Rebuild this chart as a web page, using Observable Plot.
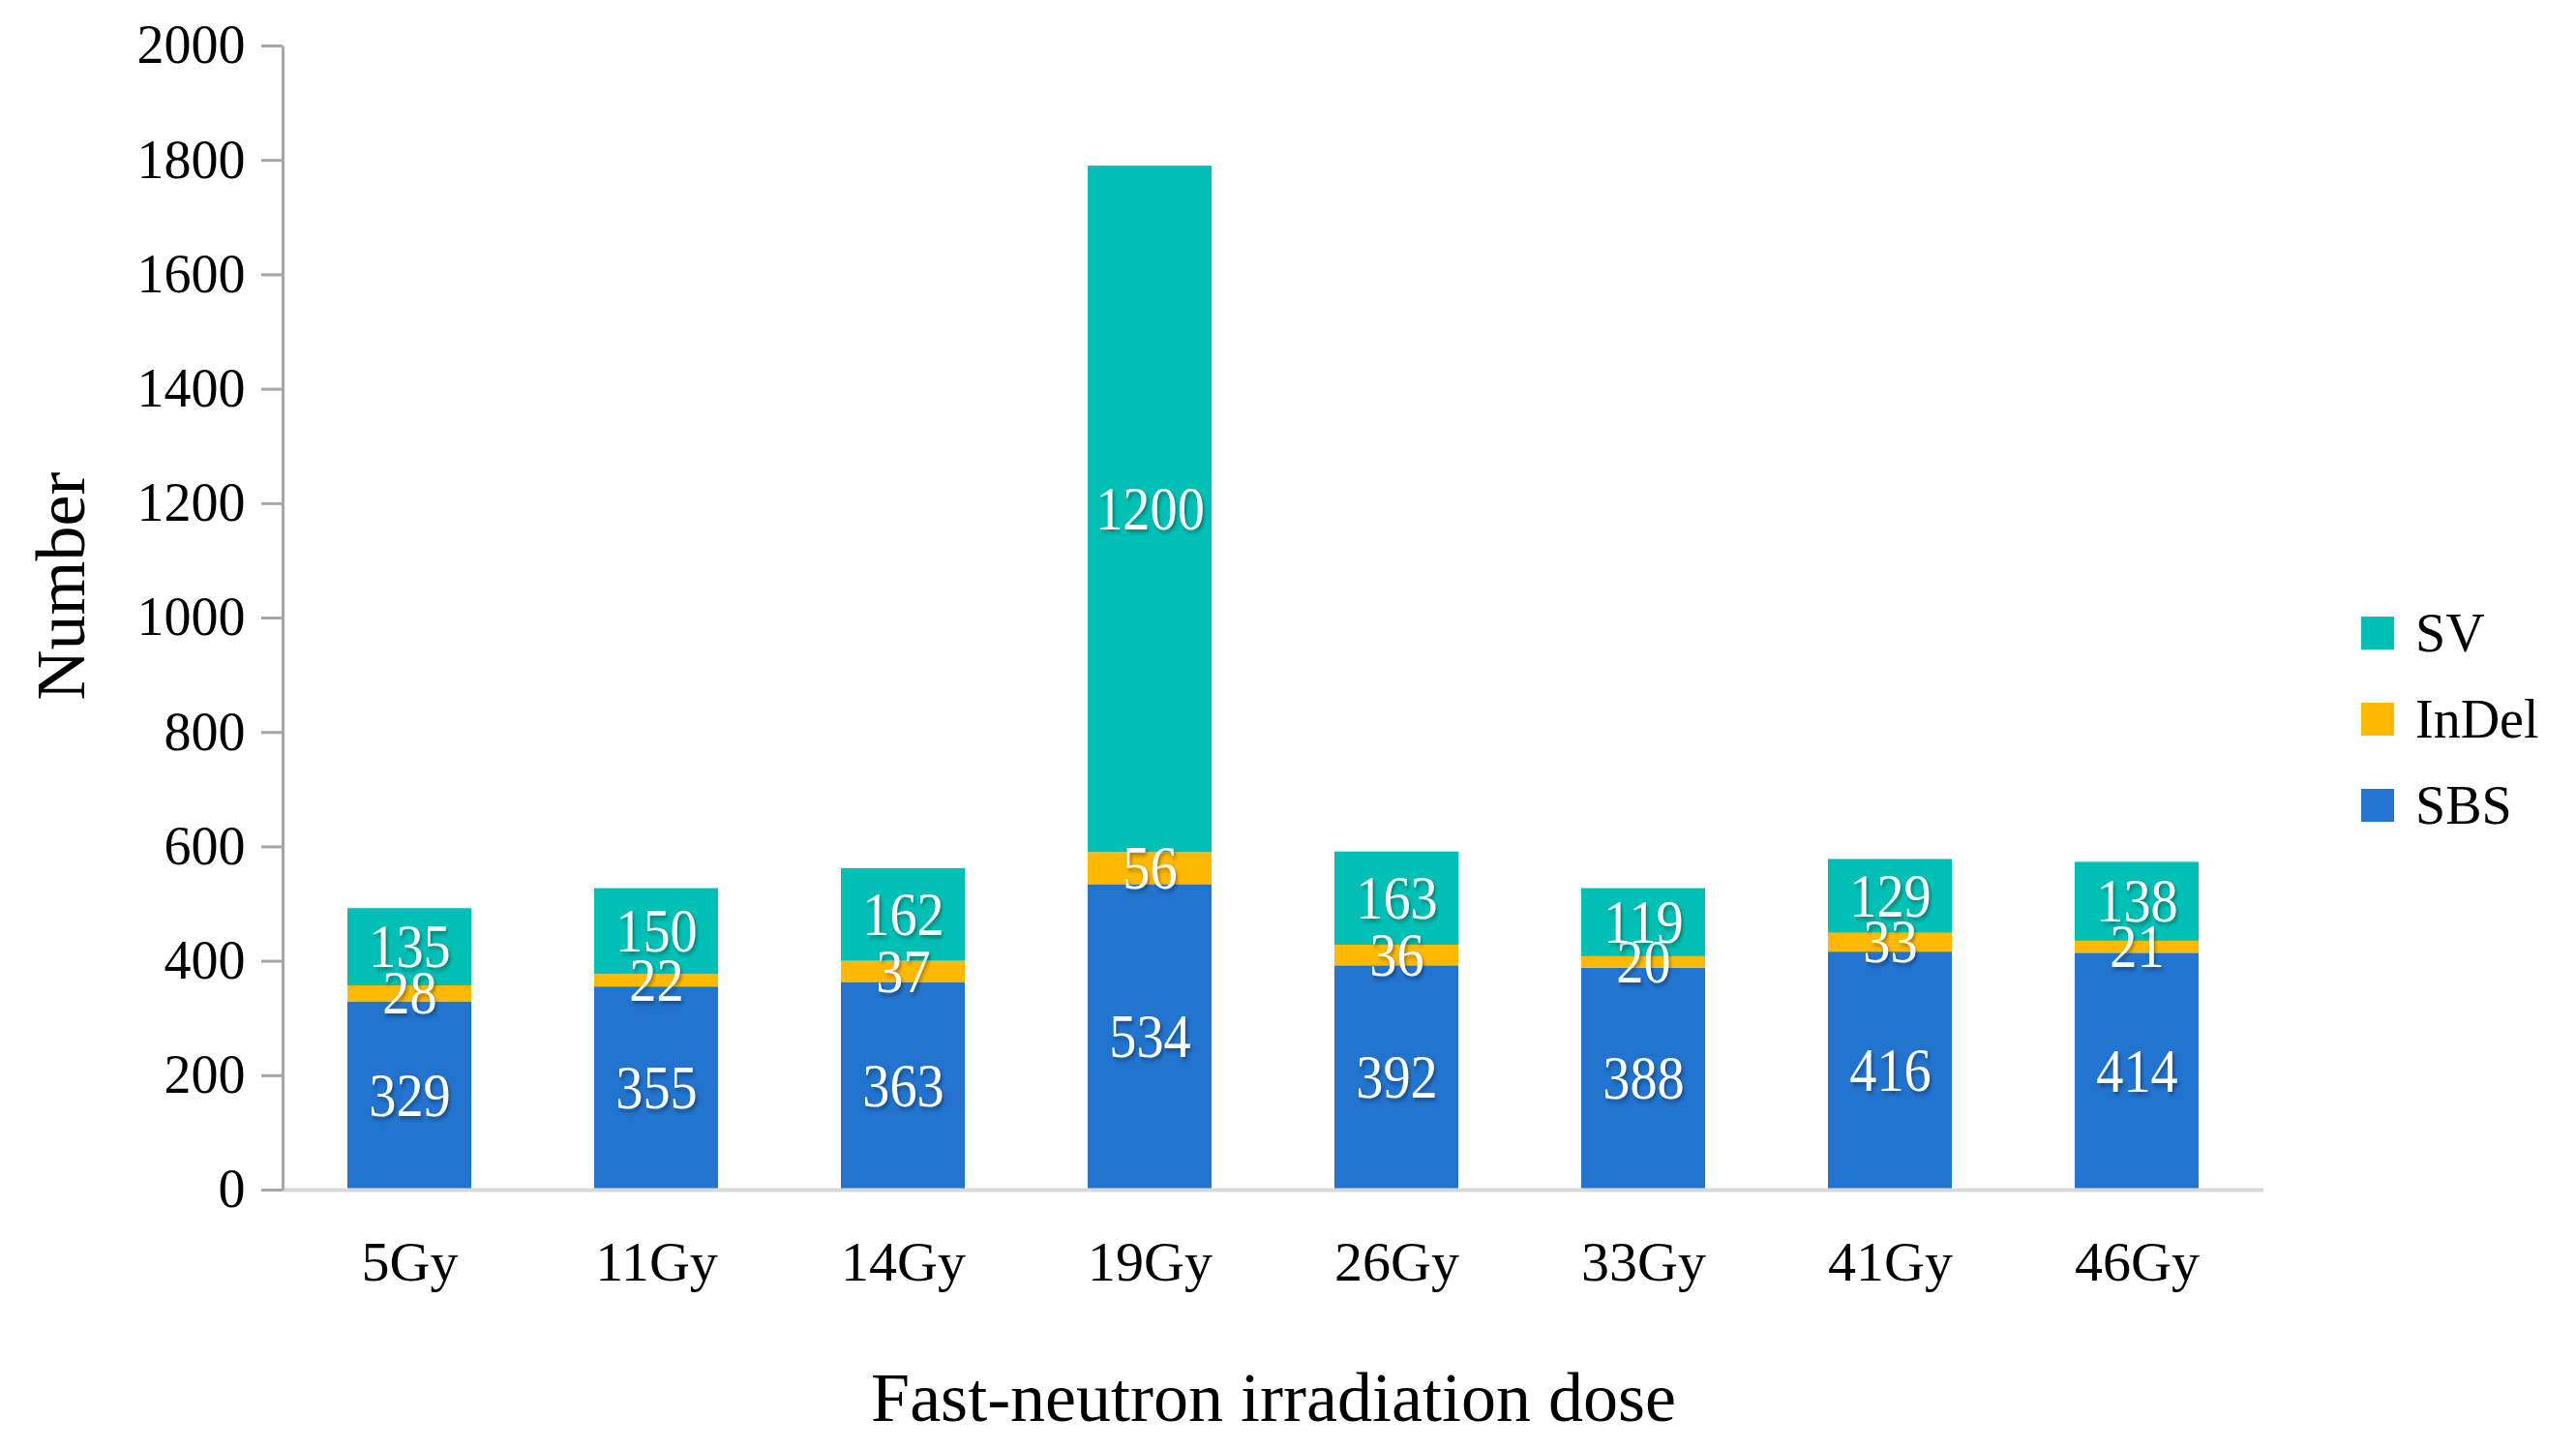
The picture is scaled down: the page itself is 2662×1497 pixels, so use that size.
<!DOCTYPE html>
<html>
<head>
<meta charset="utf-8">
<script src="https://cdn.jsdelivr.net/npm/d3@7"></script>
<script src="https://cdn.jsdelivr.net/npm/@observablehq/plot@0.6"></script>
<style>
  html, body { margin: 0; padding: 0; background: #fff; }
  #wrap { position: relative; width: 2662px; height: 1497px; font-family: "Liberation Serif", "Times New Roman", serif; }
  #legend { position: absolute; left: 2440px; top: 609px; }
  .item { display: flex; align-items: center; height: 89px; font-size: 56px; color: #000; }
  .sw { width: 34px; height: 34px; margin-right: 22px; }
  g.datalabels text { filter: drop-shadow(2px 3px 2px rgba(0,0,0,0.35)); }
</style>
</head>
<body>
<div id="wrap"></div>
<script>
const doses = ["5Gy", "11Gy", "14Gy", "19Gy", "26Gy", "33Gy", "41Gy", "46Gy"];
const SBS   = [329, 355, 363, 534, 392, 388, 416, 414];
const InDel = [28, 22, 37, 56, 36, 20, 33, 21];
const SV    = [135, 150, 162, 1200, 163, 119, 129, 138];
const seriesNames = ["SBS", "InDel", "SV"];
const seriesColors = ["#2274cf", "#ffb900", "#00c0b5"];
const yTicks = [0, 200, 400, 600, 800, 1000, 1200, 1400, 1600, 1800, 2000];

const seriesValues = {SBS, InDel, SV};
const data = [];
seriesNames.forEach(s => doses.forEach((d, i) => data.push({dose: d, type: s, value: seriesValues[s][i]})));

const W = 2662, H = 1497, mL = 292, mR = 323, mT = 47, mB = 268;
const fw = W - mL - mR, fh = H - mT - mB;

const chart = Plot.plot({
  width: W, height: H,
  marginLeft: mL, marginRight: mR, marginTop: mT, marginBottom: mB,
  style: {fontFamily: "'Liberation Serif', 'Times New Roman', serif", background: "white", color: "black"},
  x: {domain: doses, paddingInner: 0.5, paddingOuter: 0.25, label: null},
  y: {domain: [0, 2000], label: null},
  color: {domain: seriesNames, range: seriesColors},
  marks: [
    Plot.barY(data, Plot.stackY({x: "dose", y: "value", fill: "type", order: seriesNames})),
    Plot.text(data, Plot.stackY({x: "dose", y: "value", z: "type", order: seriesNames, text: d => String(d.value), fill: "white", fontSize: 64})),
    Plot.ruleY([0], {stroke: "#d9d9d9", strokeWidth: 4}),
    Plot.frame({stroke: "#a6a6a6", strokeWidth: 3, strokeDasharray: `0 ${2 * fw + fh} ${fh}`}),
    Plot.axisY({ticks: yTicks, tickSize: 22, tickPadding: 17, fontSize: 56, stroke: "#a6a6a6", strokeWidth: 3, fill: "black", label: null, tickFormat: d => String(d)}),
    Plot.axisX({tickSize: 0, tickPadding: 52, fontSize: 58, fill: "black", label: null}),
    Plot.text(["Fast-neutron irradiation dose"], {frameAnchor: "bottom", textAnchor: "middle", dy: 238, fontSize: 72, fill: "black"}),
    Plot.text(["Number"], {frameAnchor: "left", textAnchor: "middle", rotate: -90, dx: -229, dy: -33, fontSize: 72, fill: "black"})
  ]
});

// mark data labels (first text mark)
const textGroups = chart.querySelectorAll('g[aria-label="text"]');
if (textGroups.length) {
  const g = textGroups[0];
  g.classList.add("datalabels");
  g.querySelectorAll("text").forEach(t => {
    const tr = t.getAttribute("transform");
    if (tr) t.setAttribute("transform", tr + " scale(0.88,1)");
  });
}

const wrap = document.getElementById("wrap");
wrap.appendChild(chart);

const legend = document.createElement("div");
legend.id = "legend";
[...seriesNames].reverse().forEach(s => {
  const it = document.createElement("div");
  it.className = "item";
  const sw = document.createElement("div");
  sw.className = "sw";
  sw.style.background = seriesColors[seriesNames.indexOf(s)];
  const lab = document.createElement("span");
  lab.textContent = s;
  it.appendChild(sw); it.appendChild(lab);
  legend.appendChild(it);
});
wrap.appendChild(legend);
</script>
</body>
</html>
